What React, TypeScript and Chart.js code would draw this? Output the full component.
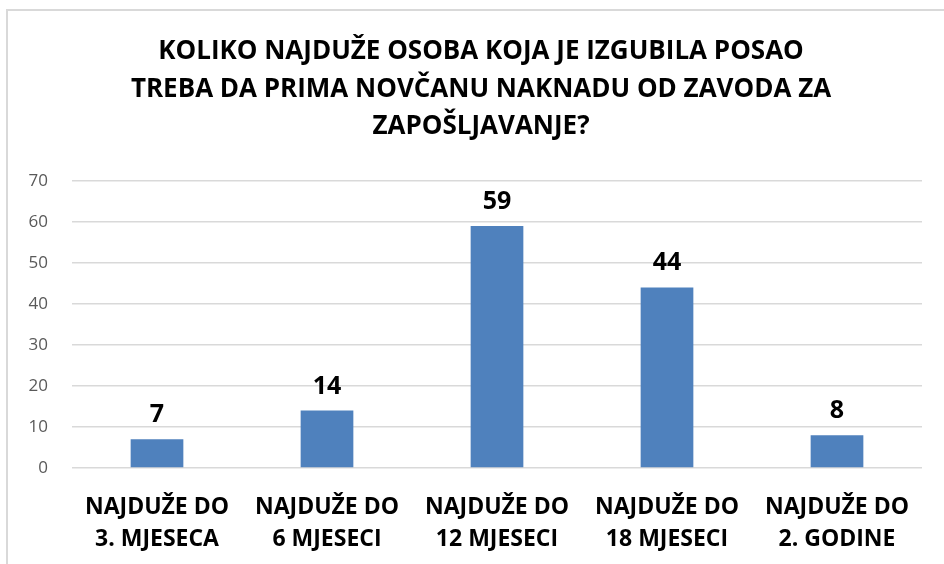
import React, { useEffect, useRef } from "react";
import { Chart, registerables } from "chart.js";

Chart.register(...registerables);

const titleLines = [
  "KOLIKO NAJDUŽE OSOBA KOJA JE IZGUBILA POSAO",
  "TREBA DA PRIMA NOVČANU NAKNADU OD ZAVODA ZA",
  "ZAPOŠLJAVANJE?",
];
const categoryLines = [
  ["NAJDUŽE DO", "3. MJESECA"],
  ["NAJDUŽE DO", "6 MJESECI"],
  ["NAJDUŽE DO", "12 MJESECI"],
  ["NAJDUŽE DO", "18 MJESECI"],
  ["NAJDUŽE DO", "2. GODINE"],
];
const values = [7, 14, 59, 44, 8];
const yMin = 0;
const yMax = 70;
const yStep = 10;

const FONT = "'Open Sans', Lato, sans-serif";

const dataLabelPlugin = {
  id: "dataLabels",
  afterDatasetsDraw(chart: any) {
    const ctx = chart.ctx;
    const meta = chart.getDatasetMeta(0);
    ctx.save();
    ctx.font = `bold 25px ${FONT}`;
    ctx.fillStyle = "#000000";
    ctx.textAlign = "center";
    ctx.textBaseline = "alphabetic";
    meta.data.forEach((bar: any, i: number) => {
      ctx.fillText(String(values[i]), bar.x, bar.y - 17);
    });
    ctx.restore();
  },
};

export default function App() {
  const canvasRef = useRef<HTMLCanvasElement | null>(null);

  useEffect(() => {
    const canvas = canvasRef.current;
    if (!canvas) return;
    const chart = new Chart(canvas, {
      type: "bar",
      data: {
        labels: categoryLines,
        datasets: [
          {
            data: values,
            backgroundColor: "#4F81BD",
            borderWidth: 0,
            barPercentage: 0.31,
            categoryPercentage: 1,
          },
        ],
      },
      options: {
        animation: false,
        responsive: false,
        devicePixelRatio: 1,
        layout: { padding: { left: 40, right: 22, top: 10, bottom: 0 } },
        plugins: {
          legend: { display: false },
          tooltip: { enabled: false },
          title: {
            display: true,
            text: titleLines,
            color: "#000000",
            font: { family: FONT, size: 26, weight: "bold", lineHeight: 1.44 },
            padding: { top: 23, bottom: 35.5 },
          },
        },
        scales: {
          x: {
            grid: { display: false },
            border: { display: false },
            ticks: {
              color: "#000000",
              font: { family: FONT, size: 23, weight: "bold", lineHeight: 1.39 },
              padding: 15,
              maxRotation: 0,
              minRotation: 0,
              autoSkip: false,
            },
            afterFit(scale: any) {
              scale.height = 96;
            },
          },
          y: {
            min: yMin,
            max: yMax,
            grid: { color: "#D9D9D9", lineWidth: 1.5, drawTicks: false },
            border: { display: false },
            ticks: {
              stepSize: yStep,
              color: "#595959",
              font: { family: FONT, size: 17 },
              mirror: true,
              crossAlign: "far",
              padding: -43.5,
            },
            afterFit(scale: any) {
              scale.width = 32;
            },
          },
        },
      },
      plugins: [dataLabelPlugin],
    });
    return () => chart.destroy();
  }, []);

  return (
    <div
      style={{
        position: "absolute",
        left: 0,
        top: 0,
        width: 944,
        height: 564,
        overflow: "hidden",
        background: "#ffffff",
      }}
    >
      <div
        style={{
          position: "absolute",
          left: 6,
          top: 9,
          width: 1200,
          height: 1200,
          borderLeft: "2px solid #D9D9D9",
          borderTop: "2px solid #D9D9D9",
        }}
      />
      <canvas
        ref={canvasRef}
        width={944}
        height={564}
        style={{ position: "absolute", left: 0, top: 0, width: 944, height: 564 }}
      />
    </div>
  );
}
